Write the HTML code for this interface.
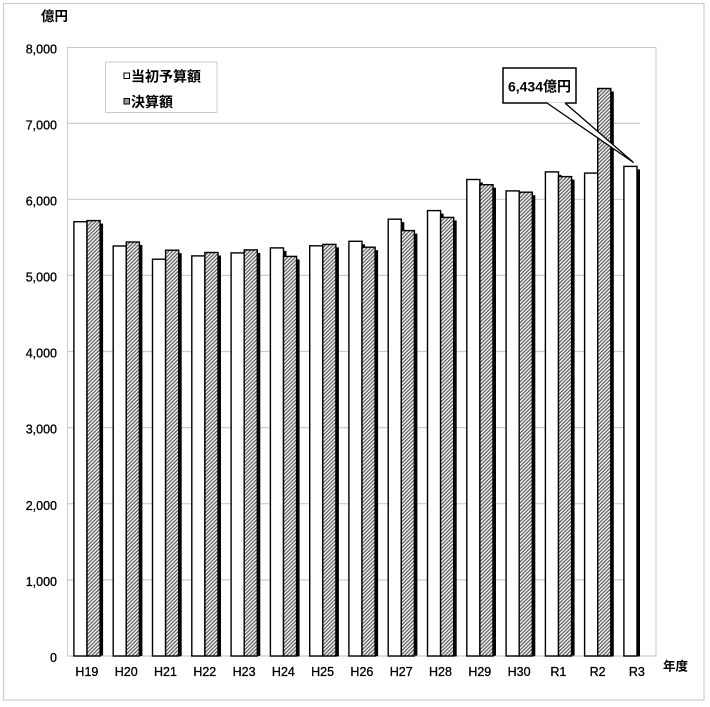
<!DOCTYPE html>
<html>
<head>
<meta charset="utf-8">
<style>
html,body{margin:0;padding:0;background:#fff;}
svg{display:block;}
text{font-family:"Liberation Sans","Noto Sans CJK JP",sans-serif;fill:#000;}
.lbl text{stroke:#000;stroke-width:0.3;}
</style>
</head>
<body>
<svg width="710" height="707" viewBox="0 0 710 707" xmlns="http://www.w3.org/2000/svg">
<defs>
<pattern id="hatch" width="2.6" height="2.6" patternUnits="userSpaceOnUse" patternTransform="rotate(45)">
<rect width="2.6" height="2.6" fill="#f4f4f4"/>
<line x1="0.6" y1="0" x2="0.6" y2="2.6" stroke="#505050" stroke-width="1.1"/>
</pattern>
</defs>
<rect x="0" y="0" width="710" height="707" fill="#fff"/>
<rect x="3.5" y="3.5" width="700.5" height="696.5" fill="none" stroke="#cfcfcf" stroke-width="1.2"/>

<!-- plot frame -->
<rect x="67.5" y="47.5" width="588.5" height="608.5" fill="#fff" stroke="#cccccc" stroke-width="1"/>
<!-- gridlines -->
<g stroke="#cccccc" stroke-width="1.2">
<line x1="68" y1="123.4" x2="640" y2="123.4"/>
<line x1="68" y1="199.3" x2="640" y2="199.3"/>
<line x1="68" y1="275.4" x2="640" y2="275.4"/>
<line x1="68" y1="351.5" x2="640" y2="351.5"/>
<line x1="68" y1="427.6" x2="640" y2="427.6"/>
<line x1="68" y1="503.7" x2="640" y2="503.7"/>
<line x1="68" y1="579.9" x2="640" y2="579.9"/>
<line x1="68" y1="656" x2="656" y2="656"/>
</g>

<!-- y labels -->
<g class="lbl" font-size="12.5" text-anchor="end">
<text x="57" y="53.5">8,000</text>
<text x="57" y="129.5">7,000</text>
<text x="57" y="205.5">6,000</text>
<text x="57" y="281.5">5,000</text>
<text x="57" y="357.5">4,000</text>
<text x="57" y="433.5">3,000</text>
<text x="57" y="510">2,000</text>
<text x="57" y="586">1,000</text>
<text x="57" y="662">0</text>
</g>
<text x="41" y="21" font-size="13.5" font-weight="bold">億円</text>

<!-- bars -->
<g id="bars" stroke="#000" stroke-width="1.4">
<!-- shadows -->
<g fill="#000" stroke="none">
<rect x="76.9" y="224.7" width="13.1" height="431"/><rect x="90" y="223.6" width="13.1" height="432"/>
<rect x="116.2" y="249" width="13.1" height="407"/><rect x="129.3" y="245" width="13.1" height="411"/>
<rect x="155.5" y="262.2" width="13.1" height="394"/><rect x="168.6" y="253.2" width="13.1" height="403"/>
<rect x="194.8" y="258.9" width="13.1" height="397"/><rect x="207.9" y="255.5" width="13.1" height="401"/>
<rect x="234.1" y="255.9" width="13.1" height="400"/><rect x="247.2" y="252.9" width="13.1" height="403"/>
<rect x="273.4" y="250.9" width="13.1" height="405"/><rect x="286.5" y="259.4" width="13.1" height="397"/>
<rect x="312.7" y="248.8" width="13.1" height="407"/><rect x="325.8" y="247.4" width="13.1" height="409"/>
<rect x="351.9" y="244.3" width="13.1" height="412"/><rect x="365" y="250.2" width="13.1" height="406"/>
<rect x="391.2" y="222.2" width="13.1" height="434"/><rect x="404.3" y="233.6" width="13.1" height="422"/>
<rect x="430.5" y="213.6" width="13.1" height="442"/><rect x="443.6" y="220.4" width="13.1" height="436"/>
<rect x="469.8" y="182.5" width="13.1" height="474"/><rect x="482.9" y="187.7" width="13.1" height="468"/>
<rect x="509.1" y="193.9" width="13.1" height="462"/><rect x="522.2" y="195.2" width="13.1" height="461"/>
<rect x="548.4" y="174.9" width="13.1" height="481"/><rect x="561.5" y="179.6" width="13.1" height="476"/>
<rect x="587.6" y="176.1" width="13.1" height="480"/><rect x="600.7" y="91.5" width="13.1" height="565"/>
<rect x="626.9" y="169.4" width="13.1" height="487"/>
</g>
<!-- white (initial budget) -->
<g fill="#fff">
<rect x="73.9" y="221.7" width="13.1" height="434.3"/>
<rect x="113.2" y="246" width="13.1" height="410"/>
<rect x="152.5" y="259.2" width="13.1" height="396.8"/>
<rect x="191.8" y="255.9" width="13.1" height="400.1"/>
<rect x="231.1" y="252.9" width="13.1" height="403.1"/>
<rect x="270.4" y="247.9" width="13.1" height="408.1"/>
<rect x="309.7" y="245.8" width="13.1" height="410.2"/>
<rect x="348.9" y="241.3" width="13.1" height="414.7"/>
<rect x="388.2" y="219.2" width="13.1" height="436.8"/>
<rect x="427.5" y="210.6" width="13.1" height="445.4"/>
<rect x="466.8" y="179.5" width="13.1" height="476.5"/>
<rect x="506.1" y="190.9" width="13.1" height="465.1"/>
<rect x="545.4" y="171.9" width="13.1" height="484.1"/>
<rect x="584.6" y="173.1" width="13.1" height="482.9"/>
<rect x="623.9" y="166.4" width="13.1" height="489.6"/>
</g>
<!-- hatched (settlement) -->
<g fill="url(#hatch)">
<rect x="87" y="220.6" width="13.1" height="435.4"/>
<rect x="126.3" y="242" width="13.1" height="414"/>
<rect x="165.6" y="250.2" width="13.1" height="405.8"/>
<rect x="204.9" y="252.5" width="13.1" height="403.5"/>
<rect x="244.2" y="249.9" width="13.1" height="406.1"/>
<rect x="283.5" y="256.4" width="13.1" height="399.6"/>
<rect x="322.8" y="244.4" width="13.1" height="411.6"/>
<rect x="362" y="247.2" width="13.1" height="408.8"/>
<rect x="401.3" y="230.6" width="13.1" height="425.4"/>
<rect x="440.6" y="217.4" width="13.1" height="438.6"/>
<rect x="479.9" y="184.7" width="13.1" height="471.3"/>
<rect x="519.2" y="192.2" width="13.1" height="463.8"/>
<rect x="558.5" y="176.6" width="13.1" height="479.4"/>
<rect x="597.7" y="88.5" width="13.1" height="567.5"/>
</g>
</g>

<!-- x labels -->
<g class="lbl" font-size="12.5" text-anchor="middle">
<text x="86.9" y="676">H19</text>
<text x="126.2" y="676">H20</text>
<text x="165.5" y="676">H21</text>
<text x="204.8" y="676">H22</text>
<text x="244.1" y="676">H23</text>
<text x="283.4" y="676">H24</text>
<text x="322.6" y="676">H25</text>
<text x="361.9" y="676">H26</text>
<text x="401.2" y="676">H27</text>
<text x="440.5" y="676">H28</text>
<text x="479.8" y="676">H29</text>
<text x="519.1" y="676">H30</text>
<text x="558.4" y="676">R1</text>
<text x="597.6" y="676">R2</text>
<text x="636.9" y="676">R3</text>
</g>
<text x="663" y="670.5" font-size="12.5" font-weight="bold">年度</text>

<!-- legend -->
<rect x="105.5" y="62" width="111.5" height="50.5" fill="#fff" stroke="#cccccc" stroke-width="1"/>
<rect x="124" y="73" width="5.5" height="5.5" fill="#fff" stroke="#000" stroke-width="1"/>
<rect x="124" y="98.5" width="5.5" height="5.5" fill="#999" stroke="#000" stroke-width="1"/>
<text x="131" y="81.5" font-size="14" font-weight="bold">当初予算額</text>
<text x="131" y="107" font-size="14" font-weight="bold">決算額</text>

<!-- callout -->
<rect x="503" y="68" width="73" height="35" fill="#fff" stroke="#000" stroke-width="1.5"/>
<polygon points="547,102.3 565,102.3 633.5,162.5" fill="#fff" stroke="none"/>
<line x1="547" y1="103" x2="633.5" y2="162.5" stroke="#000" stroke-width="1.3"/>
<line x1="565" y1="103" x2="633.5" y2="162.5" stroke="#000" stroke-width="1.3"/>
<text x="539.5" y="91.5" font-size="14" font-weight="bold" text-anchor="middle">6,434億円</text>
</svg>
</body>
</html>
